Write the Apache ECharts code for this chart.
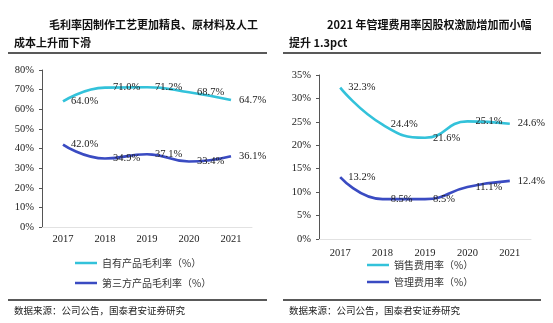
<!DOCTYPE html>
<html>
<head>
<meta charset="utf-8">
<script src="https://cdn.jsdelivr.net/npm/echarts@6/dist/echarts.min.js"></script>
<style>
html,body{margin:0;padding:0;background:#fff;}
#c{width:553px;height:323px;}
</style>
</head>
<body>
<div id="c"></div>
<script>
var years = ['2017', '2018', '2019', '2020', '2021'];
var ownGross = [64.0, 71.0, 71.2, 68.7, 64.7];
var thirdGross = [42.0, 34.9, 37.1, 33.4, 36.1];
var salesRate = [32.3, 24.4, 21.6, 25.1, 24.6];
var mgmtRate = [13.2, 8.5, 8.5, 11.1, 12.4];
var leftNames = ['自有产品毛利率（%）', '第三方产品毛利率（%）'];
var rightNames = ['销售费用率（%）', '管理费用率（%）'];

var CYAN = '#33C2DA';
var BLUE = '#3A4BC2';
var SERIF = '"Liberation Serif","Times New Roman",serif';
var CJK = '"Noto Sans CJK SC",sans-serif';

var chart = echarts.init(document.getElementById('c'), null, {renderer: 'canvas'});

function yAxis(gi, max) {
  return {
    type: 'value', gridIndex: gi, min: 0, max: max, interval: 5 * (max === 80 ? 2 : 1),
    axisLine: {show: true, lineStyle: {color: '#555', width: 1}},
    axisTick: {show: true, length: 3, lineStyle: {color: '#555'}},
    splitLine: {show: false},
    axisLabel: {formatter: '{value}%', color: '#222', fontFamily: SERIF, fontSize: 10.5, margin: 8}
  };
}
function xAxis(gi, margin) {
  return {
    type: 'category', gridIndex: gi, data: years, boundaryGap: true,
    axisLine: {show: true, lineStyle: {color: '#e2e2e2', width: 1}},
    axisTick: {show: false},
    axisLabel: {color: '#222', fontFamily: SERIF, fontSize: 10.5, margin: margin}
  };
}
function line(name, data, color, gi) {
  return {
    name: name, type: 'line', xAxisIndex: gi, yAxisIndex: gi, data: data,
    smooth: true, symbol: 'circle', symbolSize: 0.1,
    lineStyle: {color: color, width: 2.6},
    itemStyle: {color: color},
    label: {show: true, position: 'right', distance: 8, color: '#222',
      fontFamily: SERIF, fontSize: 10.5,
      formatter: function (p) { return p.value.toFixed(1) + '%'; }}
  };
}
function legend(names, left, top, gap) {
  return {
    orient: 'vertical', left: left, top: top, itemGap: gap, padding: 0,
    icon: 'rect', itemWidth: 22, itemHeight: 2.5,
    textStyle: {color: '#333', fontFamily: CJK, fontSize: 10},
    data: names
  };
}

chart.setOption({
  animation: false,
  grid: [
    {left: 42, right: 301, top: 70, bottom: 96, containLabel: false},
    {left: 319, right: 22, top: 75, bottom: 84, containLabel: false}
  ],
  xAxis: [xAxis(0, 7), xAxis(1, 9)],
  yAxis: [yAxis(0, 80), yAxis(1, 35)],
  legend: [legend(leftNames, 75, 258, 10), legend(rightNames, 367, 260, 7)],
  series: [
    line(leftNames[0], ownGross, CYAN, 0),
    line(leftNames[1], thirdGross, BLUE, 0),
    line(rightNames[0], salesRate, CYAN, 1),
    line(rightNames[1], mgmtRate, BLUE, 1)
  ],
  graphic: [
    {type: 'text', left: 49, top: 19, style: {text: '毛利率因制作工艺更加精良、原材料及人工', font: 'bold 11px ' + CJK, fill: '#111'}},
    {type: 'text', left: 14, top: 37, style: {text: '成本上升而下滑', font: 'bold 11px ' + CJK, fill: '#111'}},
    {type: 'text', left: 327, top: 19, style: {text: '2021 年管理费用率因股权激励增加而小幅', font: 'bold 11px ' + CJK, fill: '#111'}},
    {type: 'text', left: 289, top: 37, style: {text: '提升 1.3pct', font: 'bold 11px ' + CJK, fill: '#111'}},
    {type: 'line', shape: {x1: 8, y1: 53, x2: 267, y2: 53}, style: {stroke: '#222', lineWidth: 1.5}},
    {type: 'line', shape: {x1: 283, y1: 53, x2: 541, y2: 53}, style: {stroke: '#222', lineWidth: 1.5}},
    {type: 'line', shape: {x1: 8, y1: 300, x2: 267, y2: 300}, style: {stroke: '#222', lineWidth: 1.5}},
    {type: 'line', shape: {x1: 283, y1: 300, x2: 541, y2: 300}, style: {stroke: '#222', lineWidth: 1.5}},
    {type: 'text', left: 14, top: 306, style: {text: '数据来源：公司公告，国泰君安证券研究', font: '9.5px ' + CJK, fill: '#222'}},
    {type: 'text', left: 289, top: 306, style: {text: '数据来源：公司公告，国泰君安证券研究', font: '9.5px ' + CJK, fill: '#222'}}
  ]
});
</script>
</body>
</html>
